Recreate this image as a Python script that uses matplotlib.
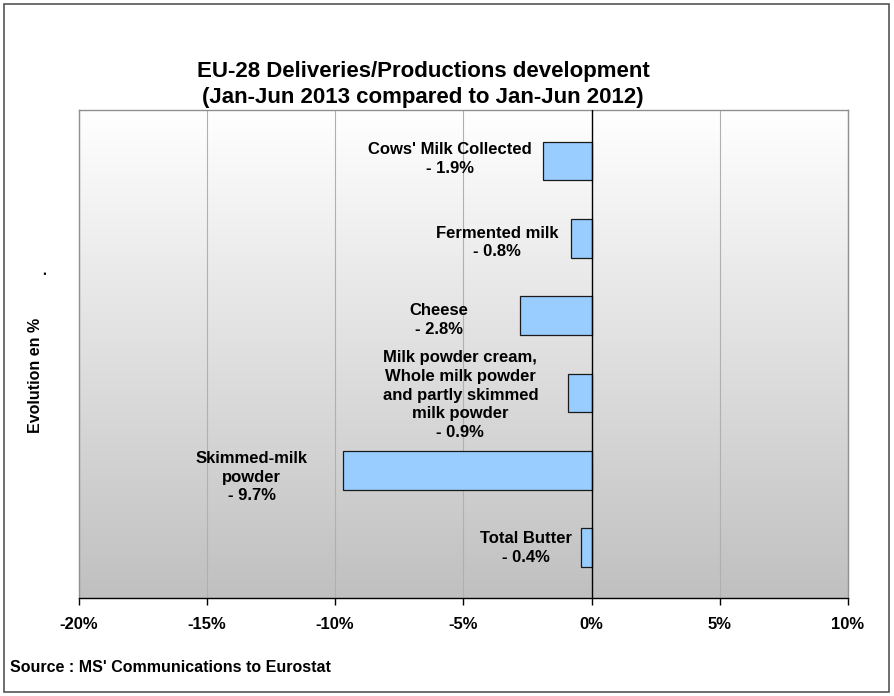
import numpy as np
import matplotlib
matplotlib.use("Agg")
import matplotlib.pyplot as plt
from matplotlib.patches import Rectangle
from matplotlib.colors import LinearSegmentedColormap

categories = ["Cows' Milk Collected", "Fermented milk", "Cheese",
              "Milk powder cream,\nWhole milk powder\nand partly skimmed\nmilk powder",
              "Skimmed-milk\npowder", "Total Butter"]
values = [-1.9, -0.8, -2.8, -0.9, -9.7, -0.4]
value_labels = ["- 1.9%", "- 0.8%", "- 2.8%", "- 0.9%", "- 9.7%", "- 0.4%"]
xticks = [-20, -15, -10, -5, 0, 5, 10]
xtick_labels = ["-20%", "-15%", "-10%", "-5%", "0%", "5%", "10%"]

# label placement offsets (pixels left of bar end, vertical pixel shift)
label_dx = [-93, -74, -81, -108, -91, -55]
label_dy = [-2, 4, 4, 2, 7, 0]

plt.rcParams['font.family'] = ['Liberation Sans', 'DejaVu Sans']
plt.rcParams['font.weight'] = 'bold'

fig = plt.figure(figsize=(8.94, 6.96), dpi=100)
ax = fig.add_axes([78.5/894, 1-598/696, (848-78.5)/894, (598-110)/696])

# outer border
fig.patches.append(Rectangle((4/894, 4/696), 885/894, 688/696, transform=fig.transFigure,
                             fill=False, edgecolor='#555555', linewidth=1.2))

ypos = np.arange(len(categories))
ax.set_xlim(-20, 10)
ax.set_ylim(5.65, -0.66)

# gradient background
grad = np.linspace(0, 1, 256).reshape(-1, 1)
cmap = LinearSegmentedColormap.from_list('g', ['#ffffff', '#c0c0c0'])
ax.imshow(grad, aspect='auto', cmap=cmap, extent=(-20, 10, 5.65, -0.66), zorder=0)

for x in xticks:
    if x != 0:
        ax.axvline(x, color='#b0b0b0', linewidth=0.8, zorder=1)
ax.axvline(0, color='black', linewidth=1.0, zorder=3)

ax.barh(ypos, values, height=0.5, color='#99ccff', edgecolor='#1a1a1a', linewidth=0.9, zorder=2)

for i, (c, v, lab) in enumerate(zip(categories, values, value_labels)):
    ax.annotate(c + "\n" + lab, xy=(v, ypos[i]), xytext=(label_dx[i]*0.72, -label_dy[i]*0.72),
                textcoords='offset points', ha='center', va='center', multialignment='center',
                fontsize=12, fontweight='bold', linespacing=1.3, zorder=4)

ax.set_xticks(xticks)
ax.set_xticklabels(xtick_labels, fontsize=12, fontweight='bold')
ax.set_yticks([])
ax.tick_params(axis='x', direction='out', length=5, width=1, color='black', pad=9)
for s in ['top', 'left', 'right']:
    ax.spines[s].set_color('#909090')
    ax.spines[s].set_linewidth(1.0)
ax.spines['bottom'].set_color('black')
ax.spines['bottom'].set_linewidth(1.0)

fig.text(423/894, 1-72/696, "EU-28 Deliveries/Productions development", ha='center', va='center',
         fontsize=16, fontweight='bold')
fig.text(423/894, 1-97/696, "(Jan-Jun 2013 compared to Jan-Jun 2012)", ha='center', va='center',
         fontsize=16, fontweight='bold')
fig.text(35/894, 1-375/696, "Evolution en %", rotation=90, ha='center', va='center',
         fontsize=11.5, fontweight='bold')
fig.text(41/894, 1-272/696, ".", rotation=90, ha='center', va='center',
         fontsize=11.5, fontweight='bold')
fig.text(10/894, 1-668/696, "Source : MS' Communications to Eurostat", ha='left', va='center',
         fontsize=11.5, fontweight='bold')

fig.savefig("out.png", dpi=100)
